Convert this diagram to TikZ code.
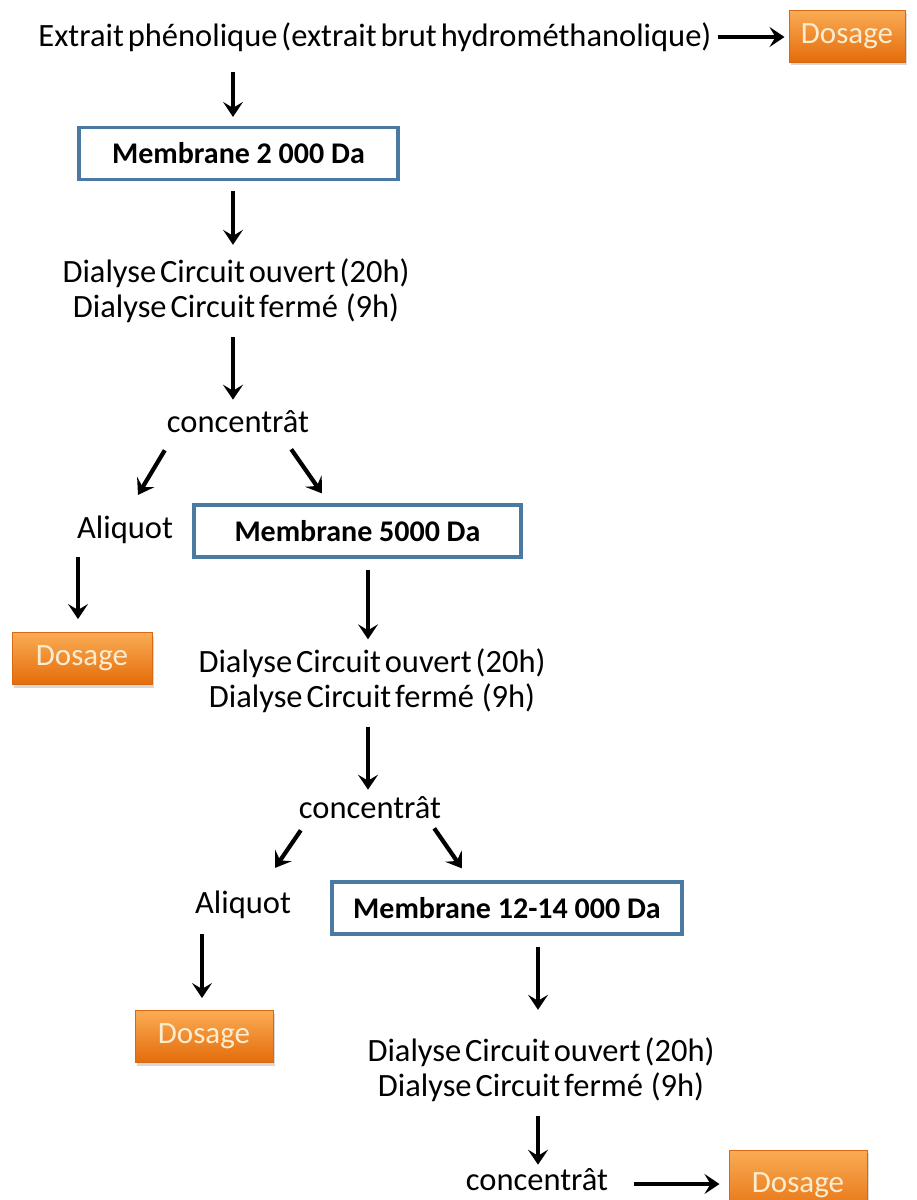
\documentclass[tikz,border=0pt]{standalone}
\usepackage{fontspec}
\setmainfont{Carlito}
\usetikzlibrary{arrows.meta,shadows}
\definecolor{boxblue}{RGB}{74,122,164}
\definecolor{orgtop}{RGB}{250,172,85}
\definecolor{orgbot}{RGB}{228,108,10}
\definecolor{orgline}{RGB}{215,105,20}
\definecolor{dostext}{RGB}{252,236,208}
\newcommand\myregfont{\fontsize{32.5}{35}\selectfont\spaceskip=0.12em plus 0.05em\relax}
\begin{document}
\begin{tikzpicture}[x=1pt,y=-1pt,
  txt/.style={font=\myregfont, inner sep=0pt, align=center},
  membox/.style={draw=boxblue, line width=3.2pt, fill=white, font=\fontsize{30}{35}\selectfont\bfseries, minimum height=52pt, inner sep=0pt},
  dosbox/.style={draw=orgline, line width=1pt, top color=orgtop, bottom color=orgbot, text=dostext, font=\fontsize{31}{35}\selectfont, minimum height=52pt, inner sep=0pt, drop shadow={opacity=0.3, shadow xshift=2pt, shadow yshift=-3pt}},
  arr/.style={-{Stealth[length=15pt,width=20pt,inset=6pt]}, line width=4.2pt, black},
]
\useasboundingbox[fill=white] (0,0) rectangle (917,1200);
% nodes
\node[txt] (t0) at (375,37) {Extrait phénolique (extrait brut hydrométhanolique)};
\node[dosbox, minimum width=116pt] (d1) at (847,36) {Dosage};
\node[membox, minimum width=319pt] (m1) at (238.5,153.5) {Membrane 2 000 Da};
\node[txt] (dl1) at (236,291) {Dialyse Circuit ouvert (20h)\\Dialyse Circuit fermé\ \ (9h)};
\node[txt] (c1) at (238,422) {concentrât};
\node[txt] (a1) at (125,530) {Aliquot};
\node[membox, minimum width=327pt] (m2) at (357.5,531) {Membrane 5000 Da};
\node[dosbox, minimum width=140pt] (d2) at (82,658.5) {Dosage};
\node[txt] (dl2) at (372,681) {Dialyse Circuit ouvert (20h)\\Dialyse Circuit fermé\ \ (9h)};
\node[txt] (c2) at (370,808) {concentrât};
\node[txt] (a2) at (243,905) {Aliquot};
\node[membox, minimum width=350pt] (m3) at (507,908) {Membrane 12-14 000 Da};
\node[dosbox, minimum width=138pt] (d3) at (204,1036.5) {Dosage};
\node[txt] (dl3) at (541,1070) {Dialyse Circuit ouvert (20h)\\Dialyse Circuit fermé\ \ (9h)};
\node[txt] (c3) at (537,1180) {concentrât};
\node[dosbox, minimum width=138pt, minimum height=70pt] (d4) at (798,1185) {Dosage};
% connectors
\draw[arr, shorten <=6pt, shorten >=4pt] (t0.east) -- (t0.east -| d1.west);
\draw[arr, shorten <=20pt, shorten >=9pt] ([xshift=-5.5pt]m1.north |- t0.south) -- ([xshift=-5.5pt]m1.north);
\draw[arr, shorten <=10pt, shorten >=14pt] ([xshift=-5.5pt]m1.south) -- ([xshift=-5.5pt]m1.south |- dl1.north);
\draw[arr, shorten <=14pt, shorten >=11pt] ([xshift=-3pt]dl1.south) -- ([xshift=-3pt]dl1.south |- c1.north);
\draw[arr] ([xshift=-2pt,yshift=-17pt]c1.south west) -- ([xshift=13pt,yshift=21pt]a1.north);
\draw[arr] ([xshift=-18pt,yshift=-16pt]c1.south east) -- ([xshift=-35.5pt,yshift=10pt]m2.north);
\draw[arr, shorten <=13pt, shorten >=13pt] ([xshift=-47pt]a1.south) -- ([xshift=-47pt]a1.south |- d2.north);
\draw[arr, shorten <=11pt, shorten >=9.5pt] ([xshift=10.5pt]m2.south) -- ([xshift=10.5pt]m2.south |- dl2.north);
\draw[arr, shorten <=14pt, shorten >=7pt] ([xshift=-4pt]dl2.south) -- ([xshift=-4pt]dl2.south |- c2.north);
\draw[arr] ([xshift=2pt,yshift=-11pt]c2.south west) -- ([xshift=32pt,yshift=23pt]a2.north);
\draw[arr] ([xshift=-7pt,yshift=-9pt]c2.south east) -- ([xshift=-45pt,yshift=12pt]m3.north);
\draw[arr, shorten <=15pt, shorten >=12pt] ([xshift=-41pt]a2.south) -- ([xshift=-41pt]a2.south |- d3.north);
\draw[arr, shorten <=11pt, shorten >=28pt] ([xshift=31pt]m3.south) -- ([xshift=31pt]m3.south |- dl3.north);
\draw[arr, shorten <=14pt, shorten >=4pt] ([xshift=-3pt]dl3.south) -- ([xshift=-3pt]dl3.south |- c3.north);
\draw[arr, shorten <=26pt, shorten >=9pt] ([yshift=-4pt]c3.east) -- ([yshift=-4pt]c3.east -| d4.west);
\end{tikzpicture}
\end{document}
